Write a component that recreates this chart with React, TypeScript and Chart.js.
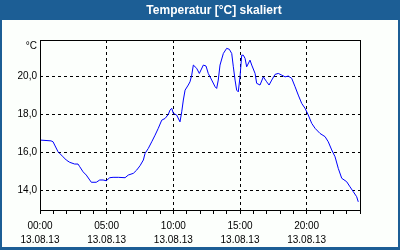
import React, { useEffect, useRef } from "react";
import { Chart, registerables } from "chart.js";

Chart.register(...registerables);

const TITLE = "Temperatur [°C] skaliert";
const UNIT = "°C";
const DATE_LABEL = "13.08.13";
const Y_TICKS = [14, 16, 18, 20];
const X_LABEL_HOURS = [0, 5, 10, 15, 20];

// hours since 00:00
const hours = [
  0.05, 0.83, 0.98, 1.1, 1.35, 1.73, 1.97, 2.23, 2.6, 2.85, 2.98, 3.23, 3.47, 3.73, 3.85,
  4.22, 4.48, 4.73, 4.97, 5.23, 5.48, 5.87, 6.38, 6.62, 7.0, 7.25, 7.5, 7.75, 7.88, 8.12,
  8.38, 8.63, 8.87, 9.13, 9.38, 9.62, 9.75, 9.88, 10.0, 10.25, 10.5, 10.63, 10.75, 10.88,
  11.12, 11.25, 11.38, 11.5, 11.75, 11.95, 12.25, 12.45, 12.62, 12.88, 13.13, 13.25, 13.37,
  13.5, 13.75, 14.0, 14.2, 14.38, 14.5, 14.63, 14.75, 14.87, 15.0, 15.13, 15.25, 15.38,
  15.5, 15.75, 15.88, 16.13, 16.25, 16.5, 16.75, 17.0, 17.18, 17.38, 17.63, 17.87, 18.13,
  18.38, 18.62, 18.88, 19.13, 19.37, 19.63, 19.88, 20.12, 20.38, 20.63, 21.0, 21.38, 21.62,
  21.88, 22.13, 22.37, 22.63, 23.0, 23.25, 23.5, 23.75, 23.87,
];

// temperature in °C
const temps = [
  16.63, 16.59, 16.54, 16.37, 16.02, 15.75, 15.58, 15.46, 15.37, 15.37, 15.23, 14.96, 14.79,
  14.53, 14.41, 14.41, 14.53, 14.53, 14.49, 14.65, 14.67, 14.67, 14.65, 14.79, 14.88, 15.05,
  15.28, 15.58, 15.93, 16.19, 16.54, 16.89, 17.25, 17.68, 17.77, 17.98, 18.21, 18.3, 18.04,
  17.95, 17.59, 18.12, 18.74, 19.26, 19.53, 19.7, 20.05, 20.58, 20.41, 20.14, 20.58, 20.53,
  20.14, 19.79, 19.44, 19.35, 19.79, 20.58, 21.19, 21.46, 21.41, 21.19, 20.49, 19.79, 19.26,
  19.17, 19.96, 21.1, 21.1, 20.93, 20.49, 20.84, 20.58, 20.14, 19.62, 19.53, 19.96, 19.7,
  19.53, 19.79, 20.09, 20.14, 20.05, 19.96, 20.0, 19.88, 19.44, 19.0, 18.56, 18.3, 17.95,
  17.51, 17.25, 16.98, 16.81, 16.54, 16.11, 15.75, 15.14, 14.62, 14.44, 14.17, 13.91, 13.65,
  13.38,
];

const FRAME_BLUE = "#1c5e95";
const PANEL_BG = "#fcfffc";
const FONT = "'Liberation Sans', Arial, sans-serif";

const framePlugin = {
  id: "frame",
  beforeDraw(chart: any) {
    const { ctx, width, height } = chart;
    ctx.save();
    ctx.fillStyle = FRAME_BLUE;
    ctx.fillRect(0, 0, width, height);
    ctx.fillStyle = PANEL_BG;
    ctx.fillRect(2, 20, width - 4, height - 23);
    ctx.fillStyle = "#ffffff";
    ctx.font = `bold 12px ${FONT}`;
    ctx.textAlign = "center";
    ctx.textBaseline = "middle";
    ctx.fillText(TITLE, 214, 10.5);
    ctx.restore();
  },
  afterDraw(chart: any) {
    const { ctx, chartArea } = chart;
    ctx.save();
    ctx.strokeStyle = "#000";
    ctx.lineWidth = 1;
    ctx.setLineDash([]);
    ctx.strokeRect(
      Math.round(chartArea.left) + 0.5,
      Math.round(chartArea.top) + 0.5,
      Math.round(chartArea.right - chartArea.left),
      Math.round(chartArea.bottom - chartArea.top)
    );
    ctx.fillStyle = "#000";
    ctx.font = `10px ${FONT}`;
    ctx.textAlign = "right";
    ctx.textBaseline = "middle";
    ctx.fillText(UNIT, chartArea.left - 3, 46.5);
    ctx.restore();
  },
};

export default function App() {
  const ref = useRef<HTMLCanvasElement | null>(null);

  useEffect(() => {
    if (!ref.current) return;
    const chart = new Chart(ref.current, {
      type: "line",
      data: {
        datasets: [
          {
            data: hours.map((h, i) => ({ x: h, y: temps[i] })),
            borderColor: "#0000ff",
            borderWidth: 1,
            pointRadius: 0,
            tension: 0,
            fill: false,
          },
        ],
      },
      options: {
        animation: false,
        responsive: false,
        devicePixelRatio: 1,
        layout: { padding: { left: 0, top: 40, right: 40, bottom: 0 } },
        plugins: {
          legend: { display: false },
          title: { display: false },
          tooltip: { enabled: false },
        },
        scales: {
          x: {
            type: "linear",
            min: 0,
            max: 24,
            afterBuildTicks: (scale: any) => {
              const t = [];
              for (let h = 0; h <= 24; h++) t.push({ value: h });
              scale.ticks = t;
            },
            afterFit: (scale: any) => {
              scale.height = 40;
            },
            grid: {
              color: (ctx: any) =>
                ctx.tick && X_LABEL_HOURS.includes(ctx.tick.value) && ctx.tick.value !== 0
                  ? "#000"
                  : "rgba(0,0,0,0)",
              tickColor: "#000",
              tickLength: 4,
              drawTicks: true,
              lineWidth: 1,
            },
            border: { display: false, dash: [3, 3] },
            ticks: {
              autoSkip: false,
              maxRotation: 0,
              minRotation: 0,
              padding: 5,
              color: "#000",
              font: { family: FONT, size: 10, lineHeight: 1.4 },
              callback: (v: any) => {
                const n = Number(v);
                if (!X_LABEL_HOURS.includes(n)) return "";
                return [String(n).padStart(2, "0") + ":00", DATE_LABEL];
              },
            },
          },
          y: {
            type: "linear",
            min: 12.95,
            max: 21.9,
            afterBuildTicks: (scale: any) => {
              scale.ticks = Y_TICKS.map((v) => ({ value: v }));
            },
            afterFit: (scale: any) => {
              scale.width = 40;
            },
            grid: {
              color: "#000",
              drawTicks: false,
              lineWidth: 1,
            },
            border: { display: false, dash: [3, 3] },
            ticks: {
              padding: 3,
              color: "#000",
              font: { family: FONT, size: 10 },
              callback: (v: any) => Number(v).toFixed(1).replace(".", ","),
            },
          },
        },
      },
      plugins: [framePlugin],
    } as any);
    return () => chart.destroy();
  }, []);

  return (
    <div style={{ position: "fixed", left: 0, top: 0, width: 400, height: 250 }}>
      <canvas ref={ref} width={400} height={250} style={{ width: 400, height: 250, display: "block" }} />
    </div>
  );
}
